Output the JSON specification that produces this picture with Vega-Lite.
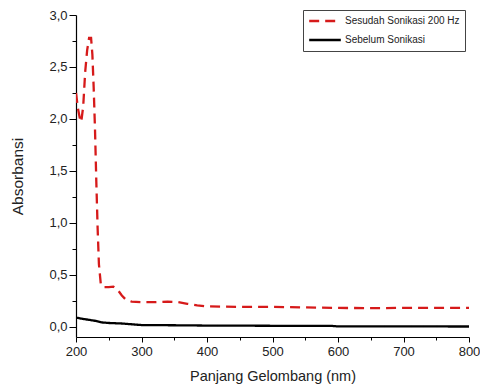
{
  "$schema": "https://vega.github.io/schema/vega-lite/v6.json",
  "width": 393,
  "height": 322,
  "autosize": "none",
  "padding": {"left": 76, "top": 15, "right": 11, "bottom": 55},
  "background": "white",
  "config": {
    "view": {"stroke": null},
    "font": "Liberation Sans",
    "axis": {
      "domainColor": "black",
      "tickColor": "black",
      "labelColor": "#222222",
      "titleColor": "#222222",
      "labelFont": "Liberation Sans",
      "titleFont": "Liberation Sans",
      "labelFontSize": 13,
      "titleFontSize": 14.5,
      "titleFontWeight": "normal",
      "grid": false,
      "domainWidth": 1.2,
      "tickWidth": 1
    }
  },
  "data": {
    "values": [
      {"wl": 200, "abs": 2.25, "s": "Sesudah Sonikasi 200 Hz"},
      {"wl": 203, "abs": 2.1, "s": "Sesudah Sonikasi 200 Hz"},
      {"wl": 206, "abs": 2.0, "s": "Sesudah Sonikasi 200 Hz"},
      {"wl": 208, "abs": 1.97, "s": "Sesudah Sonikasi 200 Hz"},
      {"wl": 211, "abs": 2.12, "s": "Sesudah Sonikasi 200 Hz"},
      {"wl": 214, "abs": 2.45, "s": "Sesudah Sonikasi 200 Hz"},
      {"wl": 217, "abs": 2.66, "s": "Sesudah Sonikasi 200 Hz"},
      {"wl": 220, "abs": 2.78, "s": "Sesudah Sonikasi 200 Hz"},
      {"wl": 223, "abs": 2.78, "s": "Sesudah Sonikasi 200 Hz"},
      {"wl": 225, "abs": 2.62, "s": "Sesudah Sonikasi 200 Hz"},
      {"wl": 227, "abs": 2.3, "s": "Sesudah Sonikasi 200 Hz"},
      {"wl": 229, "abs": 1.9, "s": "Sesudah Sonikasi 200 Hz"},
      {"wl": 231, "abs": 1.4, "s": "Sesudah Sonikasi 200 Hz"},
      {"wl": 233, "abs": 0.95, "s": "Sesudah Sonikasi 200 Hz"},
      {"wl": 235, "abs": 0.6, "s": "Sesudah Sonikasi 200 Hz"},
      {"wl": 238, "abs": 0.4, "s": "Sesudah Sonikasi 200 Hz"},
      {"wl": 242, "abs": 0.38, "s": "Sesudah Sonikasi 200 Hz"},
      {"wl": 250, "abs": 0.38, "s": "Sesudah Sonikasi 200 Hz"},
      {"wl": 257, "abs": 0.385, "s": "Sesudah Sonikasi 200 Hz"},
      {"wl": 263, "abs": 0.36, "s": "Sesudah Sonikasi 200 Hz"},
      {"wl": 270, "abs": 0.3, "s": "Sesudah Sonikasi 200 Hz"},
      {"wl": 276, "abs": 0.26, "s": "Sesudah Sonikasi 200 Hz"},
      {"wl": 285, "abs": 0.24, "s": "Sesudah Sonikasi 200 Hz"},
      {"wl": 300, "abs": 0.235, "s": "Sesudah Sonikasi 200 Hz"},
      {"wl": 320, "abs": 0.235, "s": "Sesudah Sonikasi 200 Hz"},
      {"wl": 340, "abs": 0.24, "s": "Sesudah Sonikasi 200 Hz"},
      {"wl": 356, "abs": 0.235, "s": "Sesudah Sonikasi 200 Hz"},
      {"wl": 370, "abs": 0.22, "s": "Sesudah Sonikasi 200 Hz"},
      {"wl": 385, "abs": 0.205, "s": "Sesudah Sonikasi 200 Hz"},
      {"wl": 400, "abs": 0.195, "s": "Sesudah Sonikasi 200 Hz"},
      {"wl": 450, "abs": 0.19, "s": "Sesudah Sonikasi 200 Hz"},
      {"wl": 500, "abs": 0.19, "s": "Sesudah Sonikasi 200 Hz"},
      {"wl": 550, "abs": 0.185, "s": "Sesudah Sonikasi 200 Hz"},
      {"wl": 600, "abs": 0.18, "s": "Sesudah Sonikasi 200 Hz"},
      {"wl": 650, "abs": 0.178, "s": "Sesudah Sonikasi 200 Hz"},
      {"wl": 700, "abs": 0.18, "s": "Sesudah Sonikasi 200 Hz"},
      {"wl": 750, "abs": 0.18, "s": "Sesudah Sonikasi 200 Hz"},
      {"wl": 800, "abs": 0.18, "s": "Sesudah Sonikasi 200 Hz"},
      {"wl": 200, "abs": 0.087, "s": "Sebelum Sonikasi"},
      {"wl": 210, "abs": 0.075, "s": "Sebelum Sonikasi"},
      {"wl": 220, "abs": 0.065, "s": "Sebelum Sonikasi"},
      {"wl": 230, "abs": 0.055, "s": "Sebelum Sonikasi"},
      {"wl": 240, "abs": 0.04, "s": "Sebelum Sonikasi"},
      {"wl": 250, "abs": 0.035, "s": "Sebelum Sonikasi"},
      {"wl": 270, "abs": 0.03, "s": "Sebelum Sonikasi"},
      {"wl": 290, "abs": 0.02, "s": "Sebelum Sonikasi"},
      {"wl": 300, "abs": 0.015, "s": "Sebelum Sonikasi"},
      {"wl": 350, "abs": 0.013, "s": "Sebelum Sonikasi"},
      {"wl": 400, "abs": 0.01, "s": "Sebelum Sonikasi"},
      {"wl": 500, "abs": 0.008, "s": "Sebelum Sonikasi"},
      {"wl": 590, "abs": 0.007, "s": "Sebelum Sonikasi"},
      {"wl": 600, "abs": 0.002, "s": "Sebelum Sonikasi"},
      {"wl": 700, "abs": 0.002, "s": "Sebelum Sonikasi"},
      {"wl": 800, "abs": 0.001, "s": "Sebelum Sonikasi"}
    ]
  },
  "mark": {"type": "line", "strokeWidth": 2.3, "clip": true},
  "encoding": {
    "x": {
      "field": "wl",
      "type": "quantitative",
      "scale": {"domain": [200, 800], "nice": false, "zero": false},
      "axis": {
        "title": "Panjang Gelombang (nm)",
        "values": [200, 250, 300, 350, 400, 450, 500, 550, 600, 650, 700, 750, 800],
        "labelExpr": "datum.value % 100 == 0 ? datum.label : ''",
        "tickSize": {"condition": {"test": "datum.value % 100 != 0", "value": 3}, "value": 5},
        "labelOverlap": false,
        "labelFlush": false,
        "labelBound": false,
        "labelPadding": 3,
        "titlePadding": 11
      }
    },
    "y": {
      "field": "abs",
      "type": "quantitative",
      "scale": {"domain": [-0.1, 3.0], "nice": false, "zero": false},
      "axis": {
        "title": "Absorbansi",
        "titleFontSize": 15.5,
        "values": [0, 0.25, 0.5, 0.75, 1.0, 1.25, 1.5, 1.75, 2.0, 2.25, 2.5, 2.75, 3.0],
        "labelExpr": "abs(datum.value*2 - round(datum.value*2)) < 0.01 ? replace(format(datum.value, '.1f'), '.', ',') : ''",
        "tickSize": {"condition": {"test": "abs(datum.value*2 - round(datum.value*2)) > 0.01", "value": 4}, "value": 7},
        "labelOverlap": false,
        "labelPadding": 2,
        "titlePadding": 23
      }
    },
    "color": {
      "field": "s",
      "type": "nominal",
      "scale": {"domain": ["Sesudah Sonikasi 200 Hz", "Sebelum Sonikasi"], "range": ["#d61a1a", "#000000"]},
      "legend": {
        "title": null,
        "orient": "none",
        "legendX": 227,
        "legendY": -5,
        "strokeColor": "#444444",
        "fillColor": "white",
        "padding": 5,
        "symbolType": "stroke",
        "symbolSize": 1000,
        "symbolStrokeWidth": 2.3,
        "clipHeight": 12,
        "labelFontSize": 10,
        "labelFont": "Liberation Sans",
        "labelColor": "#222222",
        "labelOffset": 3,
        "rowPadding": 7,
        "labelLimit": 200
      }
    },
    "strokeDash": {
      "field": "s",
      "type": "nominal",
      "scale": {"domain": ["Sesudah Sonikasi 200 Hz", "Sebelum Sonikasi"], "range": [[10, 6], [1, 0]]},
      "legend": null
    }
  }
}
